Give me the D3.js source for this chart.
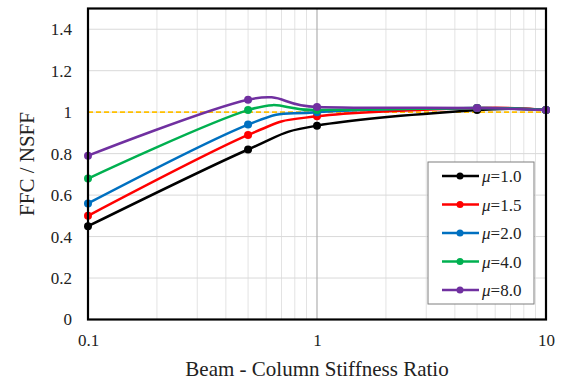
<!DOCTYPE html>
<html>
<head>
<meta charset="utf-8">
<script src="https://cdn.jsdelivr.net/npm/d3@7"></script>
<style>
  body { margin: 0; background: white; }
  svg text { font-family: "Liberation Serif", "Times New Roman", serif; }
</style>
</head>
<body>
<div id="chart"></div>
<script>
// data
let ratios = [0.1, 0.5, 1, 5, 10];
let mu10 = [0.45, 0.82, 0.935, 1.01, 1.01];
let mu15 = [0.50, 0.89, 0.98, 1.02, 1.01];
let mu20 = [0.56, 0.94, 1.00, 1.02, 1.01];
let mu40 = [0.68, 1.01, 1.01, 1.02, 1.01];
let mu80 = [0.79, 1.06, 1.025, 1.02, 1.01];
let seriesNames = ["1.0", "1.5", "2.0", "4.0", "8.0"];
let yTicks = [0, 0.2, 0.4, 0.6, 0.8, 1, 1.2, 1.4];
let xTicks = [0.1, 1, 10];

let colors = ["#000000", "#ff0000", "#0070c0", "#00b050", "#7030a0"];
let allSeries = [mu10, mu15, mu20, mu40, mu80];

let w = 565;
let h = 383;
let pLeft = 88, pRight = 546, pTop = 8.5, pBottom = 319.5;
let serif = "'Liberation Serif', 'Times New Roman', serif";

let svg = d3.select("#chart")
  .append("svg")
    .attr("width", w)
    .attr("height", h)
    .attr("font-family", serif)
    .style("background-color", "white");

let x = d3.scaleLog().domain([0.1, 10]).range([pLeft, pRight]);
let y = d3.scaleLinear().domain([0, 1.5]).range([pBottom, pTop]);

// minor vertical grid
let minor = [];
for (let d = 0.1; d < 10; d *= 10) {
  for (let k = 2; k <= 9; k++) minor.push(+(d * k).toFixed(2));
}
svg.append("g").selectAll("line").data(minor).enter().append("line")
  .attr("x1", d => x(d)).attr("x2", d => x(d))
  .attr("y1", pTop).attr("y2", pBottom)
  .style("stroke", "#e3e3e3").style("stroke-width", 1);

// horizontal grid
svg.append("g").selectAll("line").data(yTicks.slice(1)).enter().append("line")
  .attr("x1", pLeft).attr("x2", pRight)
  .attr("y1", d => y(d)).attr("y2", d => y(d))
  .style("stroke", "#d9d9d9").style("stroke-width", 1);

// major vertical at 1
svg.append("line")
  .attr("x1", x(1)).attr("x2", x(1))
  .attr("y1", pTop).attr("y2", pBottom)
  .style("stroke", "#b0b0b0").style("stroke-width", 1.2);

// reference line y = 1
svg.append("line")
  .attr("x1", pLeft).attr("x2", pRight)
  .attr("y1", y(1)).attr("y2", y(1))
  .style("stroke", "#ffc000").style("stroke-width", 1.6)
  .style("stroke-dasharray", "5,3");

// curves
let line = d3.line()
  .x((d, i) => x(ratios[i]))
  .y(d => y(d))
  .curve(d3.curveCatmullRom.alpha(0));

allSeries.forEach(function(s, k) {
  svg.append("path")
    .datum(s)
    .attr("d", line)
    .style("fill", "none")
    .style("stroke", colors[k])
    .style("stroke-width", 2.5);
  svg.append("g").selectAll("circle").data(s).enter().append("circle")
    .attr("cx", (d, i) => x(ratios[i]))
    .attr("cy", d => y(d))
    .attr("r", 4)
    .style("fill", colors[k]);
});

// frame
svg.append("rect")
  .attr("x", pLeft).attr("y", pTop)
  .attr("width", pRight - pLeft).attr("height", pBottom - pTop)
  .style("fill", "none").style("stroke", "black").style("stroke-width", 2.2);

// y axis
svg.append("g")
  .attr("transform", "translate(" + pLeft + ",0)")
  .call(d3.axisLeft(y).tickValues(yTicks).tickSize(0).tickPadding(16)
    .tickFormat(d => String(+d.toFixed(1))))
  .attr("font-family", serif)
  .call(g => g.select(".domain").remove())
  .selectAll("text")
    .style("font-size", "17px")
    .style("fill", "#222");

// x axis
svg.append("g")
  .attr("transform", "translate(0," + pBottom + ")")
  .call(d3.axisBottom(x).tickValues(xTicks).tickSize(0).tickPadding(14)
    .tickFormat(d => String(d)))
  .attr("font-family", serif)
  .call(g => g.select(".domain").remove())
  .selectAll("text")
    .style("font-size", "17px")
    .style("fill", "#222");

// titles
svg.append("text")
  .attr("x", (pLeft + pRight) / 2).attr("y", 376)
  .attr("text-anchor", "middle")
  .style("font-size", "21px").style("fill", "#222")
  .text("Beam - Column Stiffness Ratio");

svg.append("text")
  .attr("transform", "translate(34," + ((pTop + pBottom) / 2) + ") rotate(-90)")
  .attr("text-anchor", "middle")
  .style("font-size", "21px").style("fill", "#222")
  .text("FFC / NSFF");

// legend
let lg = svg.append("g").attr("transform", "translate(428,162)");
lg.append("rect")
  .attr("width", 106).attr("height", 142)
  .style("fill", "white").style("stroke", "#7f7f7f").style("stroke-width", 1);

let items = lg.selectAll("g.item").data(seriesNames).enter().append("g")
  .attr("transform", (d, i) => "translate(0," + (14 + i * 28.5) + ")");
items.append("line")
  .attr("x1", 14).attr("x2", 51)
  .style("stroke", (d, i) => colors[i]).style("stroke-width", 2.5);
items.append("circle")
  .attr("cx", 32).attr("r", 3.5)
  .style("fill", (d, i) => colors[i]);
let t = items.append("text")
  .attr("x", 54).attr("y", 6)
  .style("font-size", "17px").style("fill", "#222");
t.append("tspan").style("font-style", "italic").text("\u03bc");
t.append("tspan").text(d => "=" + d);
</script>
</body>
</html>
